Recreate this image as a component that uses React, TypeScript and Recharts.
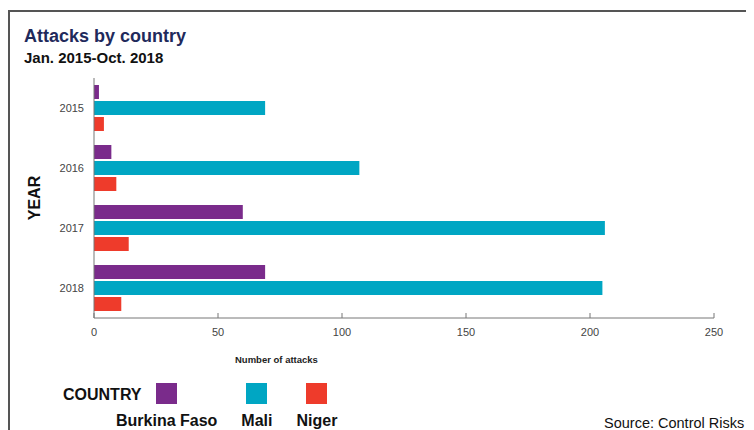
import React from 'react';
import { BarChart, Bar, XAxis, YAxis } from 'recharts';

// values
const years = ['2015', '2016', '2017', '2018'];
const burkinaFaso = [2, 7, 60, 69];
const mali = [69, 107, 206, 205];
const niger = [4, 9, 14, 11];
const xTicks = [0, 50, 100, 150, 200, 250];

const series = [
  { key: 'burkina', name: 'Burkina Faso', color: '#7a2b8b', values: burkinaFaso },
  { key: 'mali', name: 'Mali', color: '#00a6c3', values: mali },
  { key: 'niger', name: 'Niger', color: '#ee3b2b', values: niger },
];

const data = years.map((year, i) => {
  const row: any = { year };
  series.forEach(s => { row[s.key] = s.values[i]; });
  return row;
});

const FONT = '"Liberation Sans", Arial, Helvetica, sans-serif';

export default function App() {
  return (
    <div style={{ position: 'relative', width: 746, height: 422, overflow: 'hidden', fontFamily: FONT }}>
      {/* frame (top + left edges visible) */}
      <div style={{
        position: 'absolute', left: 0, top: 2, width: 760, height: 440,
        borderTop: '2px solid #555', borderLeft: '2px solid #555'
      }} />

      <div style={{ position: 'absolute', left: 0, top: 0 }}>
        <BarChart
          width={746}
          height={422}
          data={data}
          layout="vertical"
          margin={{ top: 70, right: 40, left: 26, bottom: 82 }}
          barSize={14}
          barGap={2}
        >
          <XAxis
            type="number"
            domain={[0, 250]}
            ticks={xTicks}
            height={30}
            tickSize={-5}
            tickMargin={15}
            axisLine={{ stroke: '#777' }}
            tickLine={{ stroke: '#777' }}
            tick={{ fill: '#444', fontSize: 11, fontFamily: FONT }}
          />
          <YAxis
            type="category"
            dataKey="year"
            width={60}
            tickLine={false}
            tickMargin={4}
            axisLine={{ stroke: '#777' }}
            tick={{ fill: '#444', fontSize: 11, fontFamily: FONT }}
            label={{
              value: 'YEAR', angle: -90, position: 'center', dx: -30,
              style: { fontSize: 16, fontWeight: 'bold', fill: '#111', fontFamily: FONT }
            }}
          />
          {series.map(s => (
            <Bar key={s.key} dataKey={s.key} name={s.name} fill={s.color} isAnimationActive={false} />
          ))}
        </BarChart>
      </div>

      {/* titles and notes */}
      <svg width={746} height={422} style={{ position: 'absolute', left: 0, top: 0, pointerEvents: 'none' }}>
        <text x={16} y={34} fontSize={18} fontWeight="bold" fill="#1f2a5c" fontFamily={FONT}>Attacks by country</text>
        <text x={16} y={55} fontSize={15} fontWeight="bold" fill="#111" fontFamily={FONT}>Jan. 2015-Oct. 2018</text>
        <text x={227} y={355} fontSize={9.5} fontWeight="bold" fill="#222" fontFamily={FONT}>Number of attacks</text>
        <text x={55} y={392} fontSize={16} fontWeight="bold" fill="#111" fontFamily={FONT}>COUNTRY</text>
      </svg>

      {/* legend */}
      <div style={{ position: 'absolute', left: 108, top: 375, display: 'flex', gap: 24 }}>
        {series.map(s => (
          <div key={s.key} style={{ display: 'flex', flexDirection: 'column', alignItems: 'center' }}>
            <div style={{ width: 21, height: 21, background: s.color }} />
            <div style={{ marginTop: 9, fontSize: 16, lineHeight: '16px', fontWeight: 'bold', color: '#111', whiteSpace: 'nowrap' }}>
              {s.name}
            </div>
          </div>
        ))}
      </div>

      <div style={{ position: 'absolute', left: 596, top: 408, fontSize: 14.5, lineHeight: '15px', color: '#111', whiteSpace: 'nowrap' }}>
        Source: Control Risks
      </div>
    </div>
  );
}
